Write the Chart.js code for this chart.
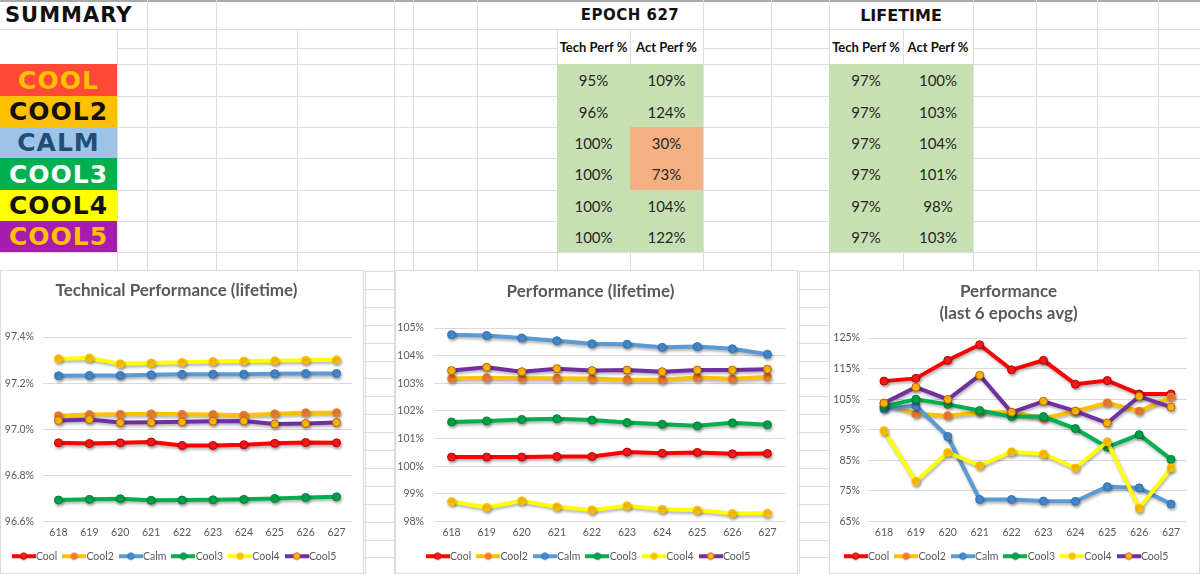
<!DOCTYPE html>
<html>
<head>
<meta charset="utf-8">
<script src="https://cdn.jsdelivr.net/npm/chart.js@4.4.1/dist/chart.umd.min.js"></script>
<style>
html,body{margin:0;padding:0;background:#fff;}
#sheet{position:relative;width:1200px;height:574px;overflow:hidden;background:#fff;font-family:Lato,"Open Sans",sans-serif;}
.gl{position:absolute;background:#dedede;}
.cell{position:absolute;display:flex;align-items:center;justify-content:center;box-sizing:border-box;white-space:nowrap;}
.box{position:absolute;background:#fff;border:1px solid #d9d9d9;box-sizing:border-box;}
.box canvas{position:absolute;left:0;top:0;}
.big{font-family:"DejaVu Sans",sans-serif;font-weight:bold;}
</style>
</head>
<body>
<div id="sheet"></div>
<script>
// epochs on the x axis
const epochs=['618','619','620','621','622','623','624','625','626','627'];
const names=['Cool','Cool2','Calm','Cool3','Cool4','Cool5'];

// Technical Performance (lifetime), %
const techCool =[96.941,96.938,96.941,96.945,96.930,96.930,96.933,96.939,96.943,96.941];
const techCool2=[97.059,97.064,97.065,97.067,97.065,97.064,97.061,97.067,97.072,97.072];
const techCalm =[97.232,97.233,97.233,97.236,97.238,97.239,97.239,97.241,97.242,97.242];
const techCool3=[96.693,96.696,96.699,96.692,96.693,96.694,96.696,96.700,96.704,96.707];
const techCool4=[97.306,97.309,97.284,97.287,97.290,97.294,97.296,97.297,97.299,97.301];
const techCool5=[97.038,97.042,97.029,97.030,97.032,97.035,97.036,97.023,97.025,97.029];

// Performance (lifetime), %
const perfCool =[100.33,100.33,100.33,100.35,100.35,100.51,100.47,100.50,100.45,100.46];
const perfCool2=[103.17,103.20,103.18,103.18,103.17,103.13,103.13,103.21,103.16,103.23];
const perfCalm =[104.76,104.73,104.64,104.54,104.43,104.41,104.30,104.33,104.25,104.05];
const perfCool3=[101.60,101.64,101.69,101.72,101.67,101.58,101.52,101.46,101.57,101.50];
const perfCool4=[98.72,98.51,98.75,98.53,98.42,98.57,98.44,98.41,98.29,98.30];
const perfCool5=[103.46,103.58,103.42,103.53,103.46,103.48,103.42,103.48,103.48,103.51];

// Performance (last 6 epochs avg), %
const avgCool =[110.9,111.8,117.7,122.8,114.6,117.7,109.9,111.1,106.7,106.7];
const avgCool2=[103.7,100.2,99.6,100.7,100.7,98.8,101.1,103.8,101.1,105.7];
const avgCalm =[101.8,102.9,92.8,72.2,72.2,71.7,71.6,76.4,76.0,70.7];
const avgCool3=[102.6,105.0,103.3,101.3,99.3,99.3,95.4,89.3,93.4,85.3];
const avgCool4=[94.7,78.1,87.6,83.3,87.8,87.1,82.5,91.1,69.3,82.5];
const avgCool5=[103.7,108.9,104.9,112.8,100.7,104.3,101.1,97.2,105.9,102.4];

// summary table
const poolLabels=['COOL','COOL2','CALM','COOL3','COOL4','COOL5'];
const epochTech=[95,96,100,100,100,100];
const epochAct=[109,124,30,73,104,122];
const lifeTech=[97,97,97,97,97,97];
const lifeAct=[100,103,104,101,98,103];

const lineColors=['#FF0000','#FFC000','#5B9BD5','#00B050','#FFFF00','#7030A0'];
const markFill=['#FF1A1A','#ED7D31','#4A8AD0','#00A84A','#FFC000','#FFC000'];
const markEdge=['#C00000','#ED7D31','#2E75B6','#00803A','#FFC000','#C55A11'];
const poolBg=['#FF4B36','#FFC000','#9DC3E6','#00B050','#FFFF00','#A61CAE'];
const poolFg=['#FFC000','#111111','#1F4E79','#FFFFFF','#111111','#FFC000'];

const sheet=document.getElementById('sheet');
function add(cls,st,txt){
  const d=document.createElement('div');d.className=cls;
  for(const k in st) d.style[k]=typeof st[k]==='number'?st[k]+'px':st[k];
  if(txt!==undefined) d.textContent=txt;
  sheet.appendChild(d);return d;
}
function hl(y,x1,x2){add('gl',{left:x1,top:y,width:x2-x1,height:1});}
function vl(x,y1,y2){add('gl',{left:x,top:y1,width:1,height:y2-y1});}

// grid of the sheet
add('gl',{left:0,top:0,width:1200,height:2,background:'#a9a9a9'});
hl(29,0,1200);hl(48,117,557);hl(48,703,829);hl(48,973,1200);
[64,96,127,158,190,221,252,271].forEach(y=>hl(y,0,1200));
for(let y=289;y<574;y+=17.9) hl(Math.round(y),0,1200);
[147,216,394,413,477,703,771,829,973,1036,1097,1158].forEach(x=>vl(x,0,271));
[117,297,557,630,903].forEach(x=>vl(x,29,271));
[365,394,799].forEach(x=>vl(x,271,574));

// summary table
const rowTop=[64,96,127,158,190,221,252];
add('cell big',{left:5,top:1,height:28,fontSize:21,letterSpacing:1,color:'#111',justifyContent:'flex-start'},'SUMMARY');
add('cell big',{left:557,top:1,width:146,height:28,fontSize:15,letterSpacing:0.5,color:'#111'},'EPOCH 627');
add('cell big',{left:829,top:1,width:144,height:28,fontSize:16,letterSpacing:0,color:'#111'},'LIFETIME');
[[557,73],[630,73],[829,74],[903,70]].forEach(([x,w],i)=>{
  add('cell',{left:x,top:30,width:w,height:34,fontSize:13,fontWeight:'bold',color:'#111'},i%2?'Act Perf %':'Tech Perf %');
});
add('cell',{left:557,top:64,width:146,height:188,background:'#C6E0B4'});
add('cell',{left:829,top:64,width:144,height:188,background:'#C6E0B4'});
poolLabels.forEach((p,i)=>{
  const top=rowTop[i],h=rowTop[i+1]-top;
  add('cell big',{left:0,top:top,width:117,height:h,fontSize:25,letterSpacing:1,background:poolBg[i],color:poolFg[i]},p);
  if(epochAct[i]<90) add('cell',{left:630,top:top,width:73,height:h,background:'#F4B183'});
  const vals=[[557,73,epochTech[i]],[630,73,epochAct[i]],[829,74,lifeTech[i]],[903,70,lifeAct[i]]];
  vals.forEach(([x,w,v])=>add('cell',{left:x,top:top,width:w,height:h,fontSize:15,color:'#262626'},v+'%'));
});

// charts
Chart.defaults.font.family='Lato, "Open Sans", sans-serif';
Chart.defaults.color='#595959';

function icon(i){
  const c=document.createElement('canvas');c.width=24;c.height=10;
  const g=c.getContext('2d');
  g.strokeStyle=lineColors[i];g.lineWidth=4;
  g.beginPath();g.moveTo(0,5);g.lineTo(24,5);g.stroke();
  g.beginPath();g.arc(12,5,3.3,0,Math.PI*2);
  g.fillStyle=markFill[i];g.fill();g.lineWidth=1;g.strokeStyle=markEdge[i];g.stroke();
  return c;
}
const icons=names.map((n,i)=>icon(i));

const shadow={id:'shadow',
  beforeDatasetsDraw(c){const x=c.ctx;x.save();x.shadowColor='rgba(0,0,0,0.3)';x.shadowBlur=3;x.shadowOffsetX=1;x.shadowOffsetY=2;},
  afterDatasetsDraw(c){c.ctx.restore();}
};

function makeChart(o){
  const box=add('box',{left:o.left,top:270,width:o.w+2,height:304});
  const cv=document.createElement('canvas');cv.width=o.w;cv.height=302;box.appendChild(cv);
  const datasets=o.series.map((vals,i)=>({
    label:names[i],data:vals,order:6-i,
    borderColor:lineColors[i],borderWidth:4,
    pointRadius:4,pointBorderWidth:1,
    pointBackgroundColor:markFill[i],pointBorderColor:markEdge[i],
    tension:0
  }));
  return new Chart(cv,{
    type:'line',
    data:{labels:epochs,datasets},
    plugins:[shadow],
    options:{
      responsive:false,animation:false,devicePixelRatio:1,
      layout:{padding:{left:0,right:o.padRight,top:0,bottom:1.5}},
      plugins:{
        title:{display:true,text:o.title,color:'#595959',font:{size:17,weight:'bold',lineHeight:1.3},padding:{top:o.titleTop,bottom:o.titleBottom}},
        legend:{position:'bottom',labels:{usePointStyle:true,pointStyleWidth:14,boxHeight:10,padding:10,color:'#595959',font:{size:10.5},
          generateLabels:ch=>ch.data.datasets.map((d,i)=>({text:d.label,pointStyle:icons[i],fillStyle:d.borderColor,strokeStyle:d.borderColor,lineWidth:0,hidden:false,datasetIndex:i,fontColor:'#595959'}))}},
        tooltip:{enabled:false}
      },
      scales:{
        x:{offset:true,grid:{display:false,drawTicks:false},border:{display:false},
           ticks:{padding:5,font:{size:10.5},color:'#595959'},afterFit:s=>{s.height=19.5;}},
        y:{min:o.min,max:o.max,grid:{color:'#d9d9d9',drawTicks:false},border:{display:false},
           ticks:{stepSize:o.step,padding:o.tickPad,font:{size:10.5},color:'#595959',callback:v=>v.toFixed(o.dec)+'%'},
           afterFit:s=>{s.width=o.yWidth;}}
      }
    }
  });
}

makeChart({left:0,w:362,title:'Technical Performance (lifetime)',titleTop:8,titleBottom:35.9,padRight:11,
  yWidth:42,tickPad:9,min:96.6,max:97.4,step:0.2,dec:1,
  series:[techCool,techCool2,techCalm,techCool3,techCool4,techCool5]});
makeChart({left:395,w:401,title:'Performance (lifetime)',titleTop:9,titleBottom:25.9,padRight:12,
  yWidth:38,tickPad:10,min:98,max:105,step:1,dec:0,
  series:[perfCool,perfCool2,perfCalm,perfCool3,perfCool4,perfCool5]});
makeChart({left:829,w:369,title:['Performance','(last 6 epochs avg)'],titleTop:9,titleBottom:13.8,padRight:12,
  yWidth:38,tickPad:8,min:65,max:125,step:10,dec:0,
  series:[avgCool,avgCool2,avgCalm,avgCool3,avgCool4,avgCool5]});
</script>
</body>
</html>
